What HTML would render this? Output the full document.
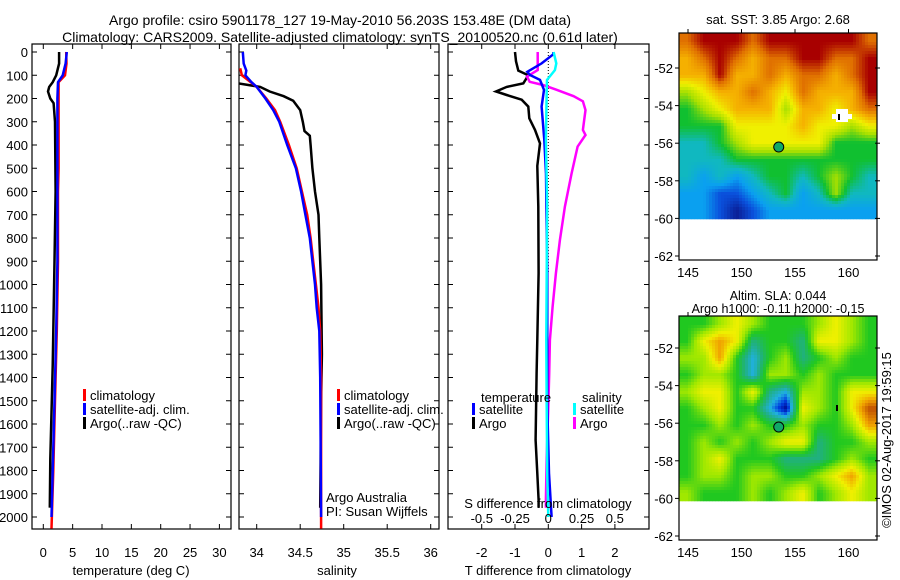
<!DOCTYPE html>
<html><head><meta charset="utf-8">
<style>
html,body{margin:0;padding:0;background:#fff;}
svg{display:block;font-family:"Liberation Sans",Arial,sans-serif;}
text{font-size:13px;fill:#000;}
</style></head>
<body>
<svg id="fig" width="900" height="580" viewBox="0 0 900 580" xmlns="http://www.w3.org/2000/svg">
<defs>
<clipPath id="c1"><rect x="32" y="44" width="199" height="485"/></clipPath>
<clipPath id="c2"><rect x="239" y="44" width="200" height="485"/></clipPath>
<clipPath id="c3"><rect x="448" y="44" width="201" height="485"/></clipPath>
</defs>
<text x="340" y="25" text-anchor="middle" style="font-size:14px">Argo profile: csiro 5901178_127 19-May-2010 56.203S 153.48E (DM data)</text>
<text x="340" y="42" text-anchor="middle" style="font-size:14px">Climatology: CARS2009. Satellite-adjusted climatology: synTS_20100520.nc (0.61d later)</text>
<text x="778" y="24" text-anchor="middle">sat. SST: 3.85 Argo: 2.68</text>
<text x="778" y="300" text-anchor="middle" style="font-size:12.5px">Altim. SLA: 0.044</text>
<text x="778" y="313" text-anchor="middle" style="font-size:12.5px">Argo h1000: -0.11 h2000: -0.15</text>
<text transform="translate(891,440) rotate(-90)" text-anchor="middle">©IMOS 02-Aug-2017 19:59:15</text>
<g id="g1"></g>
<g id="g2"></g>
<g id="g3"></g>
<g id="m1"></g>
<g id="m2"></g>
</svg>
<script>
// ---- data ----
const depthTicks = [0,100,200,300,400,500,600,700,800,900,1000,1100,1200,1300,1400,1500,1600,1700,1800,1900,2000];
const tempTicks = [0,5,10,15,20,25,30];
const salTicks = [34,34.5,35,35.5,36];
const dTTicks = [-2,-1,0,1,2];
const dSTicks = [-0.5,-0.25,0,0.25,0.5];
const dSTickLabels = ["-0.5","-0.25","0","0.25","0.5"];

const tClimDepth = [0,50,100,130,200,500,600,900,1200,1500,1800,2050];
const tClim = [3.9,3.95,3.7,2.6,2.6,2.6,2.5,2.5,2.3,2.0,1.7,1.4];
const tSatDepth = [0,50,100,130,200,900,1200,1500,1800,2000];
const tSat = [4.0,3.8,3.3,2.5,2.4,2.4,2.2,1.9,1.6,1.4];
const tArgoDepth = [0,50,100,130,150,170,200,220,300,600,900,1200,1350,1550,1750,1960];
const tArgo = [2.7,2.7,2.2,1.6,1.0,0.8,1.2,1.75,2.0,2.1,1.9,1.7,1.6,1.4,1.2,1.1];

const sClimDepth = [70,100,150,200,250,300,400,500,600,700,800,900,1000,1100,1200,1400,2050];
const sClim = [33.81,33.83,34.0,34.11,34.21,34.27,34.37,34.46,34.52,34.58,34.62,34.65,34.68,34.71,34.73,34.74,34.74];
const sSatDepth = [0,50,80,100,130,150,200,250,300,400,500,600,700,800,900,1000,1100,1200,1400,2000];
const sSat = [33.84,33.85,33.88,33.87,33.94,34.0,34.1,34.19,34.26,34.35,34.45,34.51,34.56,34.61,34.64,34.67,34.69,34.72,34.73,34.74];
const sArgoDepth = [135,150,170,190,210,250,300,340,360,400,500,600,700,800,900,1000,1300,1500,1960];
const sArgo = [33.79,34.04,34.15,34.31,34.42,34.5,34.53,34.55,34.61,34.62,34.64,34.67,34.71,34.72,34.73,34.74,34.75,34.74,34.73];

const dTArgoDepth = [0,40,80,100,135,150,170,185,205,235,285,335,393,490,665,952,1239,1382,1669,1812,1927,1960];
const dTArgo = [-1.0,-0.97,-0.9,-0.6,-0.75,-1.25,-1.57,-1.25,-0.8,-0.6,-0.57,-0.4,-0.25,-0.33,-0.3,-0.29,-0.33,-0.35,-0.38,-0.33,-0.29,-0.29];
const dTSatDepth = [0,10,49,85,99,120,163,235,378,522,952,1239,1526,1812,2000];
const dTSat = [0.15,0.15,-0.2,-0.63,-0.55,-0.25,-0.13,-0.2,-0.12,-0.07,-0.03,-0.03,-0.03,0.02,0.1];
const dSSatDepth = [0,49,78,120,163,378,665,952,1239,1526,1812,2000];
const dSSat = [0.04,0.06,0.05,-0.01,-0.012,-0.018,-0.008,-0.012,-0.015,-0.012,-0.008,0.0];
const dSArgoDepth = [0,78,106,128,142,162,190,212,250,292,335,357,407,522,665,809,952,1096,1239,1383,1526,1741,1927,1960];
const dSArgo = [-0.08,-0.08,-0.16,-0.14,-0.04,0.06,0.19,0.26,0.28,0.27,0.26,0.28,0.22,0.175,0.125,0.087,0.057,0.032,0.012,0.007,0.0,-0.012,-0.018,-0.018];

// SST map: color index 0 (dark blue) .. 9 (dark red); 12 cols x 11 rows from north
const sstGrid = [
[8,9,9,9,8,9,9,9,9,9,9,8],
[7,8,9,8,7,8,8,9,9,8,8,9],
[7,7,9,7,7,8,7,8,8,7,8,9],
[5,6,7,7,8,7,6,8,7,7,7,9],
[4,5,6,7,7,7,5,7,7,6,7,8],
[4,4,4,6,6,6,6,7,6,6,5,6],
[3,3,4,5,6,6,6,6,6,4,4,4],
[3,3,3,4,4,4,4,4,4,4,4,4],
[3,2,3,2,3,4,4,3,4,5,4,3],
[2,2,1,1,2,3,4,2,3,5,3,3],
[2,2,1,0,1,2,2,2,2,2,2,2]];
// SLA map: color index 0 (navy) .. 8 (red-orange)
const slaGrid = [
[4,4,5,6,5,4,4,4,5,6,5,4],
[4,6,7,6,3,4,4,3,6,6,5,4],
[5,5,7,4,2,4,5,3,4,5,4,4],
[4,5,5,4,2,5,5,4,5,4,4,4],
[5,6,6,4,6,3,2,5,5,4,6,6],
[4,5,6,4,4,2,0,6,5,4,6,8],
[4,4,5,4,5,4,4,5,4,4,5,7],
[4,5,4,5,4,5,6,6,3,4,4,5],
[4,5,6,4,4,4,3,3,3,4,5,4],
[4,5,5,4,5,5,4,4,5,6,7,5],
[5,4,4,4,5,4,5,6,4,5,6,5]];
const mapLonTicks = [145,150,155,160];
const mapLatTicks = [-52,-54,-56,-58,-60,-62];
const argoLon = 153.48, argoLat = -56.203;

// ---- helpers ----
const NS = "http://www.w3.org/2000/svg";
function mk(tag, attrs, parent){const e=document.createElementNS(NS,tag);for(const k in attrs)e.setAttribute(k,attrs[k]);parent.appendChild(e);return e;}
function txt(s,x,y,anchor,parent){const t=mk("text",{x:x,y:y,"text-anchor":anchor},parent);t.textContent=s;return t;}
const yD = d => 52 + d*0.2325;
const xT = t => 43.3 + t*5.87;
const xS = s => 256.7 + (s-34)*87;
const xdT = v => 548.3 + v*33.3;
const xdS = v => 548.3 + v*133;

function frame(g,x0,x1){
  const r=mk("rect",{x:x0,y:44,width:x1-x0,height:485,fill:"none",stroke:"#000","stroke-width":1.2},g);
  
  
  depthTicks.forEach(d=>{
    mk("line",{x1:x0,x2:x0+5,y1:yD(d),y2:yD(d),stroke:"#000"},g);
    mk("line",{x1:x1-5,x2:x1,y1:yD(d),y2:yD(d),stroke:"#000"},g);
  });
}
function xticks(g,vals,labels,fx){
  vals.forEach((v,i)=>{
    const x=fx(v);
    mk("line",{x1:x,x2:x,y1:529,y2:524,stroke:"#000"},g);
    mk("line",{x1:x,x2:x,y1:44,y2:49,stroke:"#000"},g);
    const t=txt(labels[i],x,557,"middle",g);
    
    
  });
}
function line(g,ds,vs,fx,color,clip,name){
  const pts=ds.map((d,i)=>fx(vs[i]).toFixed(1)+","+yD(d).toFixed(1)).join(" ");
  const p=mk("polyline",{points:pts,fill:"none",stroke:color,"stroke-width":2.5,"clip-path":"url(#"+clip+")"},g);
  
  
}
function legend(g,x,y,color,label){
  mk("rect",{x:x,y:y-9,width:3,height:12,fill:color},g);
  const t=txt(label,x+7,y+2,"start",g);
  
  
}

// ---- panel 1 ----
const g1=document.getElementById("g1");
frame(g1,32,231);
depthTicks.forEach(d=>{const t=txt(String(d),28,yD(d)+5,"end",g1);
  
  });
xticks(g1,tempTicks,tempTicks.map(String),xT);
line(g1,tClimDepth,tClim,xT,"#f00","c1","temp-climatology-line");
line(g1,tArgoDepth,tArgo,xT,"#000","c1","temp-argo-line");
line(g1,tSatDepth,tSat,xT,"#00f","c1","temp-satellite-line");
legend(g1,83,398,"#f00","climatology");
legend(g1,83,412,"#00f","satellite-adj. clim.");
legend(g1,83,426,"#000","Argo(..raw -QC)");
const xt1=txt("temperature (deg C)",131,575,"middle",g1);



// ---- panel 2 ----
const g2=document.getElementById("g2");
frame(g2,239,439);
xticks(g2,salTicks,salTicks.map(String),xS);
line(g2,sArgoDepth,sArgo,xS,"#000","c2","sal-argo-line");
line(g2,sClimDepth,sClim,xS,"#f00","c2","sal-climatology-line");
line(g2,sSatDepth,sSat,xS,"#00f","c2","sal-satellite-line");
legend(g2,337,398,"#f00","climatology");
legend(g2,337,412,"#00f","satellite-adj. clim.");
legend(g2,337,426,"#000","Argo(..raw -QC)");
const aa=txt("Argo Australia",326,502,"start",g2);


const pi=txt("PI: Susan Wijffels",326,516,"start",g2);


const xt2=txt("salinity",337,575,"middle",g2);



// ---- panel 3 ----
const g3=document.getElementById("g3");
frame(g3,448,649);
xticks(g3,dTTicks,dTTicks.map(String),xdT);
mk("line",{x1:548.3,x2:548.3,y1:52,y2:yD(950),stroke:"#000","stroke-dasharray":"1,2"},g3);
line(g3,dTArgoDepth,dTArgo,xdT,"#000","c3","dT-argo-line");
line(g3,dSArgoDepth,dSArgo,xdS,"#f0f","c3","dS-argo-line");
line(g3,dTSatDepth,dTSat,xdT,"#00f","c3","dT-satellite-line");
line(g3,dSSatDepth,dSSat,xdS,"#0ff","c3","dS-satellite-line");
const lt=txt("temperature",481,402,"start",g3);


legend(g3,472,412,"#00f","satellite");
legend(g3,472,426,"#000","Argo");
const ls=txt("salinity",582,402,"start",g3);


legend(g3,573,412,"#0ff","satellite");
legend(g3,573,426,"#f0f","Argo");
const st=txt("S difference from climatology",548,508,"middle",g3);


dSTicks.forEach((v,i)=>{const t=txt(dSTickLabels[i],xdS(v),523,"middle",g3);
  
  });
const xt3=txt("T difference from climatology",548,575,"middle",g3);



// ---- maps ----
const sstColors=[[10,30,150],[10,80,220],[10,160,240],[16,184,192],[16,192,48],[168,224,0],[240,240,0],[245,176,0],[224,112,0],[168,0,0]];
const slaColors=[[0,10,144],[0,64,224],[32,176,224],[32,176,128],[32,200,32],[160,232,0],[240,240,0],[240,160,0],[192,80,0]];
function colorAt(cm,v){v=Math.max(0,Math.min(cm.length-1,v));const i=Math.min(cm.length-2,Math.floor(v)),f=v-i;
  const c=cm[i].map((a,k)=>Math.round(a+(cm[i+1][k]-a)*f));return "rgb("+c.join(",")+")";}
function sample(grid,gx,gy){
  const R=grid.length,C=grid[0].length;
  let x=Math.max(0,Math.min(C-1,gx-0.5)),y=Math.max(0,Math.min(R-1,gy-0.5));
  const i0=Math.floor(x),j0=Math.floor(y),i1=Math.min(C-1,i0+1),j1=Math.min(R-1,j0+1),fx=x-i0,fy=y-j0;
  return grid[j0][i0]*(1-fx)*(1-fy)+grid[j0][i1]*fx*(1-fy)+grid[j1][i0]*(1-fx)*fy+grid[j1][i1]*fx*fy;
}
function drawMap(g,grid,cm,top,lat52y,dataBottom,bottom,labelY,whitePatch){
  const x0=679,x1=877,step=3;
  const lonX=lon=>688+(lon-145)*10.7;
  const latY=lat=>lat52y+(-52-lat)*18.8;
  const w=x1-x0,h=dataBottom-top,R=grid.length,C=grid[0].length;
  for(let y=top;y<dataBottom;y+=step){
    for(let x=x0;x<x1;x+=step){
      const v=sample(grid,(x+step/2-x0)/w*C,(y+step/2-top)/h*R);
      mk("rect",{x:x,y:y,width:step+0.3,height:Math.min(step,dataBottom-y)+0.3,fill:colorAt(cm,v)},g);
    }
  }
  if(whitePatch){mk("rect",{x:836,y:109,width:12,height:13,fill:"#fff"},g);mk("rect",{x:832,y:114,width:20,height:5,fill:"#fff"},g);
    mk("rect",{x:838,y:114,width:2,height:6,fill:"#000"},g);}
  else{mk("rect",{x:836,y:405,width:2,height:6,fill:"#000"},g);}
  const fr=mk("rect",{x:x0,y:top,width:w,height:bottom-top,fill:"none",stroke:"#000","stroke-width":1.2},g);
  
  
  mapLonTicks.forEach(l=>{const x=lonX(l);mk("line",{x1:x,x2:x,y1:top-4,y2:top,stroke:"#000"},g);
    const t=txt(String(l),x,labelY,"middle",g);
    
    });
  mapLatTicks.forEach(l=>{const y=latY(l);mk("line",{x1:x0-4,x2:x0,y1:y,y2:y,stroke:"#000"},g);
    mk("line",{x1:x1-2,x2:x1+3,y1:y,y2:y,stroke:"#000"},g);
    const t=txt(String(l),x0-6,y+5,"end",g);
    
    });
  const c=mk("circle",{cx:lonX(argoLon),cy:latY(argoLat),r:5,fill:"#10a868",stroke:"#000","stroke-width":1},g);
  
  
}
drawMap(document.getElementById("m1"),sstGrid,sstColors,33,68,219,260,277,true);
drawMap(document.getElementById("m2"),slaGrid,slaColors,316,348,501,540,557,false);
</script>
</body></html>
